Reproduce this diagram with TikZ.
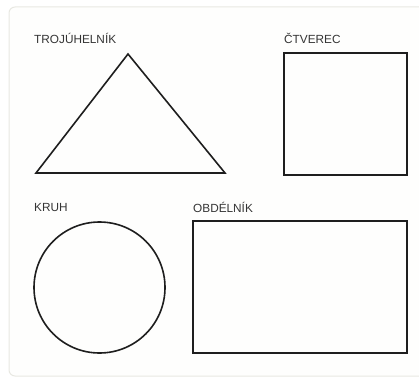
\documentclass[tikz,border=0pt]{standalone}
\usepackage{fontspec}
\setmainfont{Liberation Sans}
\usetikzlibrary{positioning}
\definecolor{ink}{RGB}{30,30,30}
\definecolor{paper}{RGB}{254,254,253}
\definecolor{rim}{RGB}{232,232,226}
\tikzset{
  x=1pt,y=-1pt,
  card/.style={draw=rim,fill=paper,rounded corners=6pt,line width=1pt},
  outline/.style={draw=ink,line width=1.6pt,line join=miter},
  caption/.style={anchor=west,inner sep=0pt,font=\fontsize{11.8}{13}\selectfont,text=ink!90},
}
\begin{document}
\begin{tikzpicture}
  \useasboundingbox (0,0) rectangle (419,379);
  \draw[card] (9,7) rectangle (430,376);
  % captions
  \node[caption] (lbltri) at (34,38) {TROJÚHELNÍK};
  \node[caption] (lblsq) at (284,38) {ČTVEREC};
  \node[caption] (lblcirc) at (34,207) {KRUH};
  \node[caption] (lblrect) at (193,207) {OBDÉLNÍK};
  % shapes
  \draw[outline] (128,54) -- (225,173) -- (36,173) -- cycle;
  \draw[outline] (284,53) rectangle (407,175);
  \draw[outline] (99.5,287.5) circle (65.5);
  \draw[outline] (193,221) rectangle (407,353);
\end{tikzpicture}
\end{document}
